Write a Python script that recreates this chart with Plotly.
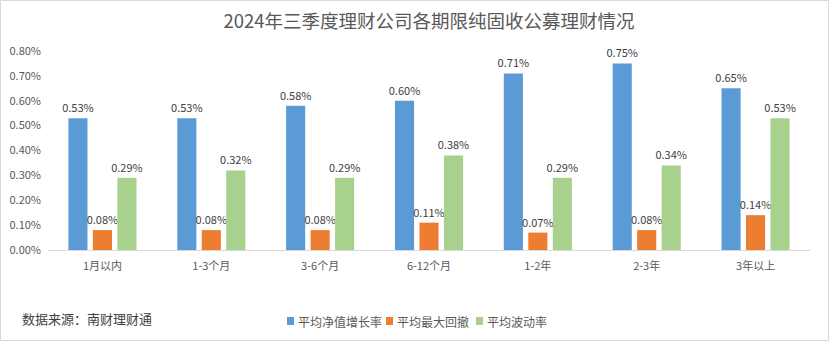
import plotly.graph_objects as go

categories = ["1月以内", "1-3个月", "3-6个月", "6-12个月", "1-2年", "2-3年", "3年以上"]
nav_growth = [0.53, 0.53, 0.58, 0.60, 0.71, 0.75, 0.65]
max_drawdown = [0.08, 0.08, 0.08, 0.11, 0.07, 0.08, 0.14]
volatility = [0.29, 0.32, 0.29, 0.38, 0.29, 0.34, 0.53]

series_names = ["平均净值增长率", "平均最大回撤", "平均波动率"]
series_colors = ["#5B9BD5", "#ED7D31", "#A9D18E"]

W, H = 829, 341
ML, MR, MT, MB = 48, 19, 51, 91
PW, PH = W - ML - MR, H - MT - MB

FONT = "Noto Sans CJK SC"
GRAY = "#595959"


def px_x(px):
    return (px - ML) / PW


def px_y(py):
    return (H - MB - py) / PH


fig = go.Figure()
for name, vals, color in zip(series_names, [nav_growth, max_drawdown, volatility], series_colors):
    fig.add_trace(go.Bar(
        x=categories, y=vals, name=name,
        marker=dict(color=color, line=dict(width=0)),
        text=[f"{v:.2f}%" for v in vals],
        textposition="outside",
        constraintext="none",
        textfont=dict(size=11, color="#404040", family=FONT),
        cliponaxis=False,
        showlegend=False,
    ))

# compact legend row: colour square followed by series name
shapes = []
annotations = []
legend_x = [287, 386, 476]
legend_y = 321
for name, color, lx in zip(series_names, series_colors, legend_x):
    shapes.append(dict(
        type="rect", xref="paper", yref="paper",
        x0=px_x(lx), x1=px_x(lx + 7), y0=px_y(legend_y + 4), y1=px_y(legend_y - 4),
        fillcolor=color, line=dict(width=0),
    ))
    annotations.append(dict(
        text=name, xref="paper", yref="paper",
        x=px_x(lx + 9), xanchor="left", y=px_y(legend_y), yanchor="middle",
        showarrow=False, font=dict(size=12, color=GRAY, family=FONT),
    ))

annotations.append(dict(
    text="数据来源：南财理财通", xref="paper", yref="paper",
    x=px_x(20), xanchor="left", y=px_y(318), yanchor="middle",
    showarrow=False, font=dict(size=13, color="#404040", family=FONT),
))

# thin frame around the whole figure
shapes.append(dict(
    type="rect", xref="paper", yref="paper",
    x0=px_x(0.5), x1=px_x(W - 0.5), y0=px_y(H - 0.5), y1=px_y(0.5),
    line=dict(color="#D9D9D9", width=1), fillcolor="rgba(0,0,0,0)",
    layer="below",
))

fig.update_layout(
    width=W, height=H,
    margin=dict(l=ML, r=MR, t=MT, b=MB, autoexpand=False),
    paper_bgcolor="white", plot_bgcolor="white",
    barmode="group", bargap=0.325, bargroupgap=0.22,
    font=dict(family=FONT, color=GRAY),
    showlegend=False,
    title=dict(
        text="2024年三季度理财公司各期限纯固收公募理财情况",
        xref="paper", x=0.5, xanchor="center", y=1 - 22 / H, yanchor="middle",
        font=dict(size=18.5, color=GRAY, family=FONT),
    ),
    xaxis=dict(
        showgrid=False, showline=True, linecolor="#D9D9D9", linewidth=1,
        ticks="", tickfont=dict(size=11, color=GRAY), ticklabelstandoff=6,
        automargin=False,
    ),
    yaxis=dict(
        range=[0, 0.8], dtick=0.1, tickformat=".2f", ticksuffix="%",
        showgrid=False, showline=False, zeroline=False,
        tickfont=dict(size=11, color=GRAY), ticklabelstandoff=6,
        automargin=False,
    ),
    annotations=annotations,
    shapes=shapes,
)

fig.write_html("out.html")
